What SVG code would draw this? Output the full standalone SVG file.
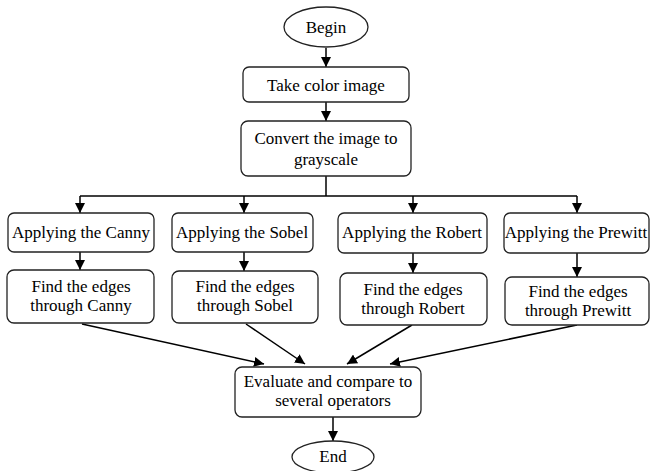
<svg xmlns="http://www.w3.org/2000/svg" width="652" height="471" viewBox="0 0 652 471">
<style>
.box{fill:#fff;stroke:#222;stroke-width:1.3}
.t{font-family:"Liberation Serif","Times New Roman",serif;font-size:17px;fill:#000;text-anchor:middle}
.c{stroke:#000;stroke-width:1.5;fill:none}
</style>
<defs>
<marker id="ah" viewBox="0 0 10 10" refX="10" refY="5" markerWidth="10" markerHeight="10" markerUnits="userSpaceOnUse" orient="auto">
<path d="M0,0 L10,5 L0,10 z" fill="#000"/>
</marker>
</defs>
<rect width="652" height="471" fill="#fff"/>
<g id="connectors">
<line class="c" x1="326" y1="48" x2="326" y2="67" marker-end="url(#ah)"/>
<line class="c" x1="326" y1="102" x2="326" y2="121" marker-end="url(#ah)"/>
<line class="c" x1="326" y1="176" x2="326" y2="196"/>
<line class="c" x1="80" y1="196" x2="577" y2="196"/>
<line class="c" x1="80" y1="196" x2="80" y2="213" marker-end="url(#ah)"/>
<line class="c" x1="244" y1="196" x2="244" y2="213" marker-end="url(#ah)"/>
<line class="c" x1="413" y1="196" x2="413" y2="213" marker-end="url(#ah)"/>
<line class="c" x1="577" y1="196" x2="577" y2="213" marker-end="url(#ah)"/>
<line class="c" x1="80" y1="252" x2="80" y2="270" marker-end="url(#ah)"/>
<line class="c" x1="244" y1="252" x2="244" y2="271" marker-end="url(#ah)"/>
<line class="c" x1="413" y1="253" x2="413" y2="273" marker-end="url(#ah)"/>
<line class="c" x1="577" y1="253" x2="577" y2="277" marker-end="url(#ah)"/>
<line class="c" x1="82" y1="324" x2="264" y2="364" marker-end="url(#ah)"/>
<line class="c" x1="246" y1="324" x2="305" y2="364" marker-end="url(#ah)"/>
<line class="c" x1="412" y1="325" x2="347" y2="364" marker-end="url(#ah)"/>
<line class="c" x1="577" y1="325" x2="390" y2="364" marker-end="url(#ah)"/>
<line class="c" x1="333" y1="417" x2="333" y2="441" marker-end="url(#ah)"/>
</g>
<g id="begin">
<ellipse class="box" cx="326" cy="27" rx="42" ry="20"/>
<text class="t" x="326" y="33">Begin</text>
</g>
<g id="take">
<rect class="box" x="243" y="67" width="166" height="35" rx="6"/>
<text class="t" x="326" y="91">Take color image</text>
</g>
<g id="convert">
<rect class="box" x="241" y="121" width="170" height="55" rx="7"/>
<text class="t" x="326" y="144">Convert the image to</text>
<text class="t" x="326" y="165">grayscale</text>
</g>
<g id="apply-canny">
<rect class="box" x="8" y="213" width="146" height="39" rx="6"/>
<text class="t" x="81" y="238">Applying the Canny</text>
</g>
<g id="apply-sobel">
<rect class="box" x="172" y="213" width="141" height="39" rx="6"/>
<text class="t" x="242" y="238">Applying the Sobel</text>
</g>
<g id="apply-robert">
<rect class="box" x="338" y="213" width="149" height="40" rx="6"/>
<text class="t" x="412" y="238">Applying the Robert</text>
</g>
<g id="apply-prewitt">
<rect class="box" x="504" y="213" width="145" height="40" rx="6"/>
<text class="t" x="576" y="238">Applying the Prewitt</text>
</g>
<g id="find-canny">
<rect class="box" x="7" y="270" width="147" height="53" rx="7"/>
<text class="t" x="81" y="292">Find the edges</text>
<text class="t" x="81" y="311">through Canny</text>
</g>
<g id="find-sobel">
<rect class="box" x="172" y="271" width="146" height="52" rx="7"/>
<text class="t" x="245" y="292">Find the edges</text>
<text class="t" x="245" y="311">through Sobel</text>
</g>
<g id="find-robert">
<rect class="box" x="340" y="273" width="147" height="52" rx="7"/>
<text class="t" x="413" y="295">Find the edges</text>
<text class="t" x="413" y="314">through Robert</text>
</g>
<g id="find-prewitt">
<rect class="box" x="505" y="277" width="144" height="48" rx="7"/>
<text class="t" x="578" y="297">Find the edges</text>
<text class="t" x="578" y="316">through Prewitt</text>
</g>
<g id="evaluate">
<rect class="box" x="235" y="367" width="186" height="50" rx="7"/>
<text class="t" x="328" y="387">Evaluate and compare to</text>
<text class="t" x="333" y="406">several operators</text>
</g>
<g id="end">
<ellipse class="box" cx="333" cy="457" rx="41" ry="16"/>
<text class="t" x="333" y="462">End</text>
</g>
</svg>
